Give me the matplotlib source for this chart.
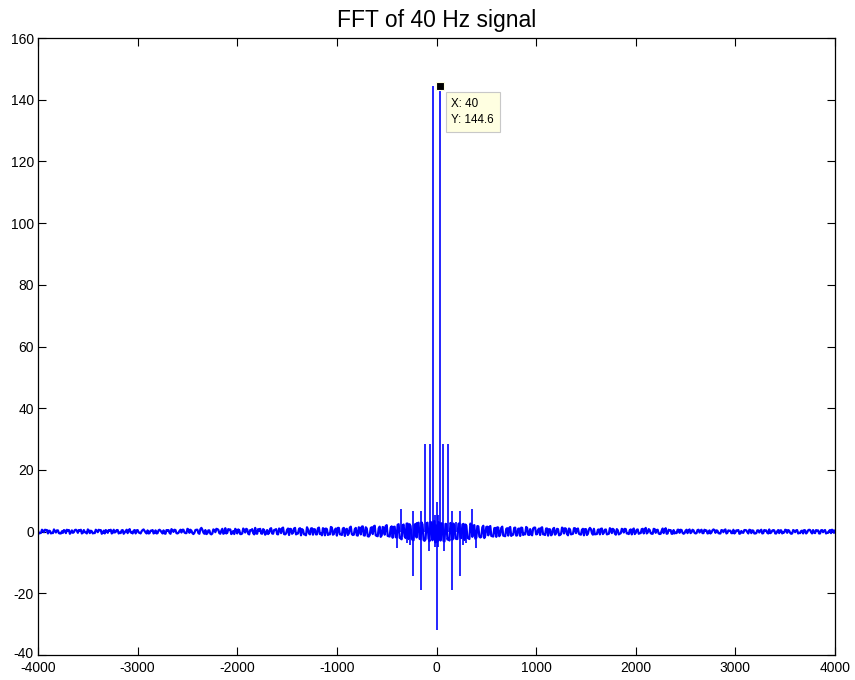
import numpy as np
import matplotlib
matplotlib.use("Agg")
import matplotlib.pyplot as plt
import matplotlib.transforms as mtransforms

plt.rcParams['font.family'] = ['Liberation Sans', 'DejaVu Sans']
plt.rcParams['axes.unicode_minus'] = False

# noise floor: values on the 20 Hz grid ...
freq = np.arange(-4000, 4001, 20)
amp = [
    0.3, -0.5, 0.6, -0.2, 0.5, -0.6, 0.2, -0.4, 0.7, -0.3, 0.4, -0.6, 0.1, 0.5, -0.5, 0.3, -0.7, 0.4, -0.2, 0.6,
    -0.4, 0.2, -0.6, 0.5, -0.3, 0.7, -0.5, 0.1, -0.4, 0.6, -0.2, 0.4, -0.7, 0.3, 0.5, -0.4, 0.2, -0.6, 0.6, -0.1,
    0.5, -0.3, 0.4, -0.7, 0.2, -0.5, 0.8, -0.2, 0.3, -0.6, 0.5, -0.4, 0.1, 0.7, -0.3, 0.4, -0.5, 0.2, -0.6, 0.4,
    -0.5, 0.6, -0.2, 0.4, -0.7, 0.3, -0.4, 0.8, -0.1, 0.5, -0.6, 0.2, -0.3, 0.6, -0.5, 0.9, -0.4, 0.3, -0.8, 0.5,
    0.6, -0.7, 1.2, -0.3, 0.5, -0.6, 0.4, -0.9, 0.7, -0.2, 0.8, -0.5, 0.3, -0.7, 1.1, -0.4, 0.6, -0.8, 0.2, 0.9,
    -0.6, 0.5, -0.8, 1.0, -0.3, 0.7, -0.9, 0.4, -0.5, 1.2, -0.7, 0.3, -0.6, 0.8, -1.0, 0.5, -0.4, 1.1, -0.7, 0.6,
    -0.8, 1.0, -0.5, 1.3, -0.9, 0.6, -1.1, 0.8, -0.4, 1.2, -0.7, 0.9, -1.2, 0.5, -0.8, 1.4, -0.6, 1.0, -1.0, 0.7,
    -0.9, 1.3, -0.6, 1.1, -1.2, 0.8, -0.7, 1.5, -1.0, 0.6, -1.3, 1.2, -0.8, 1.0, -1.4, 0.9, -0.6, 1.6, -1.1, 0.8,
    -1.2, 1.4, -0.9, 1.7, -1.3, 1.0, -1.6, 1.2, -0.8, 1.9, -1.4, 1.1, -1.7, 1.5, -1.0, 2.1, -1.5, 1.3, -2.0, 1.6,
    -1.9, 2.4, -2.2, 2.0, -1.6, 2.6, -2.4, 1.8, -2.7, 2.2, -1.9, 2.9, -2.5, 2.3, -3.0, 2.7, -2.2, 3.2, -2.8, 3.4,
    2.0,
    3.1, -2.9, 2.6, -3.2, 2.4, -2.1, 2.8, -2.6, 2.0, -2.4, 2.5, -1.8, 2.3, -2.7, 1.9, -2.2, 2.6, -1.7, 2.1, -2.0,
    1.7, -1.9, 1.4, -2.1, 1.5, -1.2, 1.8, -1.5, 1.1, -1.7, 1.3, -1.0, 1.6, -1.4, 0.9, -1.3, 1.5, -1.1, 1.2, -1.3,
    0.9, -1.4, 1.2, -0.7, 1.5, -1.0, 0.8, -1.2, 1.3, -0.9, 0.6, -1.1, 1.4, -0.8, 1.0, -1.3, 0.7, -0.9, 1.2, -0.6,
    0.8, -1.1, 1.3, -0.6, 0.9, -1.2, 0.7, -0.8, 1.1, -0.5, 1.0, -0.9, 0.6, -1.2, 0.8, -0.7, 1.2, -0.5, 0.9, -0.8,
    0.6, -0.9, 1.0, -0.4, 0.7, -0.8, 1.1, -0.5, 0.6, -1.0, 0.4, -0.7, 0.9, -0.3, 0.8, -0.6, 0.5, -0.9, 1.0, -0.4,
    0.7, -0.5, 0.8, -0.6, 1.2, -0.3, 0.5, -0.7, 0.9, -0.4, 0.6, -0.8, 0.3, -0.5, 1.1, -0.6, 0.4, -0.7, 0.5, -0.3,
    0.6, -0.4, 0.5, -0.7, 0.3, -0.5, 0.7, -0.2, 0.4, -0.6, 0.5, -0.3, 0.6, -0.5, 0.2, -0.6, 0.4, -0.3, 0.7, -0.4,
    0.3, -0.6, 0.5, -0.2, 0.7, -0.4, 0.2, -0.5, 0.6, -0.3, 0.4, -0.7, 0.2, -0.4, 0.5, -0.2, 0.6, -0.5, 0.3, -0.6,
    0.4, -0.3, 0.6, -0.5, 0.2, -0.4, 0.7, -0.3, 0.5, -0.6, 0.1, -0.5, 0.4, -0.2, 0.6, -0.4, 0.3, -0.7, 0.5, -0.2,
    0.5, -0.4, 0.2, -0.6, 0.4, -0.3, 0.6, -0.2, 0.5, -0.5, 0.3, -0.6, 0.4, -0.2, 0.5, -0.4, 0.2, -0.5, 0.4, 0.3,
]
# ... and the values half way between (-3990, -3970, ..., 3990)
amp_between = [
    -0.6, -0.4, 0.3, 0.6, 0.5, 0.3, -0.6, -0.5, 0.2, 0.4, -0.5, -0.6, -0.4, 0.3, 0.6, 0.5, -0.3, -0.4, 0.5, 0.3,
    0.5, 0.6, -0.4, -0.2, -0.6, 0.4, 0.3, -0.6, -0.5, 0.3, 0.6, 0.5, -0.4, -0.6, 0.2, 0.5, 0.6, -0.4, -0.3, 0.5,
    -0.6, -0.5, 0.5, -0.3, 0.6, 0.4, -0.3, -0.6, 0.5, 0.4, -0.3, -0.6, 0.5, 0.2, -0.6, -0.6, 0.3, 0.5, -0.4, -0.6,
    0.4, 0.3, -0.6, -0.6, 0.5, 0.5, -0.7, 0.4, 0.6, -0.5, -0.4, 0.6, 0.6, -0.3, -0.5, 0.7, 0.6, -0.5, -0.4, 0.6,
    -0.5, 0.8, 0.6, -0.7, -0.8, 0.4, -0.7, -0.6, 0.5, 0.9, 0.6, -0.7, 0.9, -0.5, -0.6, 0.8, 0.7, -0.5, -0.8, 0.5,
    0.7, -0.8, -0.6, 0.5, 0.9, -0.7, 0.5, 0.8, -0.9, -0.6, 0.8, 0.9, -0.7, 0.5, -0.6, -0.8, 0.9, -0.6, 0.5, 0.8,
    -0.9, 0.7, 1.1, -0.8, -0.6, 1.0, 0.9, -0.7, 1.0, -0.9, -0.6, 1.1, 0.8, -0.9, -1.2, 0.7, -0.9, 1.1, 0.8, -0.9,
    1.1, -0.8, -1.2, 0.9, 1.0, -1.1, -0.9, 1.3, -0.8, 1.0, 1.2, -0.9, -1.1, 1.2, 0.7, -1.1, 1.3, -0.8, -1.0, 1.2,
    -1.3, 1.1, 1.6, -1.2, 1.4, -1.5, -1.1, 1.4, 1.7, -1.2, -1.5, 1.6, -1.2, 1.3, 1.8, -1.4, -1.6, 1.7, 1.5, -1.8,
    2.2, -2.0, -2.5, 2.3, -2.1, 2.6, 2.4, -2.2, -2.8, 2.5, 2.6, -2.3, 3.0, -2.7, -2.5, 2.9, -3.1, 2.6, 3.3, -3.5,
    -3.2, 2.8, 2.7, -3.0, 2.5, -2.6, -2.9, 2.3, 2.6, -2.2, -2.4, 2.7, -2.1, 2.5, 2.3, -2.0, -2.4, 2.2, 1.9, -2.3,
    1.8, -1.6, -1.7, 1.9, -1.3, 1.6, 1.5, -1.4, -1.6, 1.2, 1.4, -1.5, 1.2, -1.3, -1.5, 1.1, 1.2, -1.4, -1.0, 1.3,
    -1.2, 1.0, 1.3, -1.1, -0.9, 1.2, -1.1, -0.9, 1.0, 1.3, -0.8, 1.0, 1.2, -0.9, -1.1, 1.0, 0.8, -1.2, 0.9, -1.0,
    0.9, -1.2, -0.8, 1.0, 1.1, -0.8, 1.0, -0.9, -0.7, 1.1, 0.8, -0.7, -1.0, 0.9, 0.8, -1.1, 0.7, 0.8, -1.0, -0.9,
    -0.8, 0.7, 0.9, -0.8, 0.6, -0.9, -0.7, 0.8, 0.9, -0.6, 0.8, -0.9, -0.5, 0.7, 0.9, -0.6, -0.8, 0.7, 0.6, -0.8,
    0.6, -0.7, -0.5, 0.9, 0.7, -0.6, 0.8, -0.5, -0.7, 0.8, 0.5, -0.6, -0.7, 1.0, 0.5, -0.7, 0.6, 0.5, -0.7, -0.6,
    -0.5, 0.6, 0.6, -0.4, -0.5, 0.6, 0.4, -0.5, 0.6, -0.4, -0.5, 0.6, 0.3, -0.5, 0.6, 0.4, -0.5, -0.6, 0.4, 0.5,
    0.4, -0.5, -0.6, 0.4, 0.5, -0.6, 0.4, 0.3, -0.5, -0.6, 0.4, 0.5, -0.6, -0.3, 0.5, 0.4, -0.6, 0.5, 0.4, -0.6,
    -0.5, 0.4, 0.3, -0.6, 0.5, 0.4, -0.6, -0.5, 0.3, 0.4, -0.6, 0.5, 0.4, -0.6, -0.3, 0.5, 0.5, -0.4, -0.6, 0.3,
    0.4, -0.6, -0.5, 0.3, 0.5, -0.6, 0.4, 0.5, -0.6, -0.3, 0.5, 0.4, -0.6, 0.5, 0.3, -0.6, -0.4, 0.5, 0.6, -0.4,
]

# spectral lines near the centre: frequency, lowest and highest value
spike_freq = [-400, -360, -300, -270, -240, -200, -160, -120, -80, -67, -40, -20, 0,
              20, 40, 67, 80, 120, 160, 200, 240, 270, 300, 360, 400]
spike_low = [-5.3, 0, -3.6, -4.4, -14.4, 0, -18.8, 0, -6.4, 0, 0, -5.0, -31.8,
             -5.0, 0, 0, -6.4, 0, -18.8, 0, -14.4, -4.4, -3.6, 0, -5.3]
spike_high = [0, 7.3, 0, 0, 6.8, 3.2, 6.6, 28.5, 0, 28.5, 144.6, 5.5, 9.7,
              5.5, 144.6, 28.5, 0, 28.5, 6.6, 3.2, 6.8, 0, 0, 7.3, 0]

tip_x = 40
tip_y = 144.6

# merge both grids into one spectrum line
x_all = np.empty(2 * len(freq) - 1)
y_all = np.empty(2 * len(freq) - 1)
x_all[0::2] = freq
x_all[1::2] = freq[:-1] + 10
y_all[0::2] = amp
y_all[1::2] = amp_between

fig = plt.figure(figsize=(8.55, 6.8), dpi=100)
ax = fig.add_axes([38 / 855, 1 - 655 / 680, 797 / 855, 617 / 680])

ax.plot(x_all, y_all, color='blue', lw=1.6)
ax.vlines(spike_freq, spike_low, spike_high, color='blue', lw=1.2)

# data tip
ax.plot([tip_x], [tip_y], marker='s', ms=6, color='black', mec='#FFFFE1', mew=0.8)
ax.annotate('X: %g\nY: %g' % (tip_x, tip_y), xy=(tip_x, tip_y),
            xytext=(11, -12), textcoords='offset pixels', ha='left', va='top',
            fontsize=8.4, linespacing=1.55,
            bbox=dict(boxstyle='square,pad=0.5', fc='#FFFFE1', ec='#C8C8C8', lw=0.8))

ax.set_xlim(-4000, 4000)
ax.set_ylim(-40, 160)
ax.set_xticks(np.arange(-4000, 4001, 1000))
ax.set_yticks(np.arange(-40, 161, 20))
ax.tick_params(direction='in', length=5.5, width=0.8, top=True, right=True,
               labelsize=10, colors='black')
ax.tick_params(axis='x', pad=4.5)
ax.tick_params(axis='y', pad=3)
for s in ax.spines.values():
    s.set_linewidth(0.9)

# lift the bottom y label a little so it clears the -4000 label
lbl = ax.get_yticklabels()[0]
lbl.set_transform(lbl.get_transform() + mtransforms.ScaledTranslation(0, 2 / 100, fig.dpi_scale_trans))

ax.set_title('FFT of 40 Hz signal', fontsize=16.5, pad=8)

fig.savefig('out.png', dpi=100)
